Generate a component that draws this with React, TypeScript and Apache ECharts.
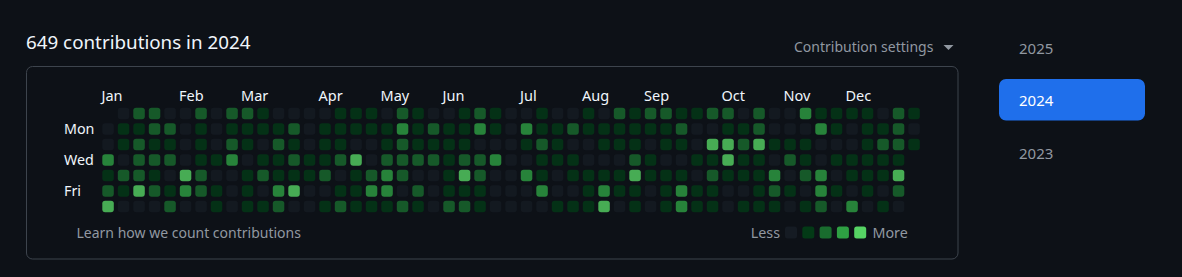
import { useEffect, useRef } from "react";
import * as echarts from "echarts";

const DAYS = ["Sun", "Mon", "Tue", "Wed", "Thu", "Fri", "Sat"];
const DAY_LABELS = ["", "Mon", "", "Wed", "", "Fri", ""];
const MONTHS = ["Jan", "Feb", "Mar", "Apr", "May", "Jun", "Jul", "Aug", "Sep", "Oct", "Nov", "Dec"];
const MONTH_START_WEEKS = [0, 5, 9, 14, 18, 22, 27, 31, 35, 40, 44, 48];
const LEVEL_COLORS = ["#151b23", "#033a16", "#196c2e", "#2ea043", "#56d364"];
const YEARS = ["2025", "2024", "2023"];
const TITLE = "649 contributions in 2024";

// contribution level (0-4) per week, one array per weekday; null = outside 2024
const SUN = [null, 0, 2, 2, 0, 0, 2, 0, 2, 2, 1, 0, 0, 0, 0, 1, 1, 1, 0, 2, 1, 0, 0, 1, 2, 1, 0, 0, 1, 0, 0, 1, 0, 2, 1, 2, 2, 1, 1, 2, 2, 0, 2, 0, 0, 3, 1, 1, 1, 1, 0, 2, 1];
const MON = [0, 1, 1, 2, 2, 0, 1, 0, 1, 1, 1, 1, 2, 0, 1, 1, 1, 1, 1, 3, 1, 2, 1, 1, 3, 1, 0, 3, 1, 1, 2, 1, 1, 1, 1, 1, 1, 2, 0, 0, 1, 1, 2, 0, 0, 0, 3, 1, 0, 1, 1, 2, 0];
const TUE = [0, 1, 2, 1, 1, 0, 1, 0, 2, 1, 0, 2, 1, 0, 1, 1, 0, 0, 1, 2, 1, 1, 1, 1, 0, 0, 0, 1, 2, 1, 0, 0, 1, 1, 1, 0, 1, 1, 0, 4, 4, 2, 4, 1, 1, 1, 0, 0, 0, 1, 2, 2, 1];
const WED = [3, 0, 2, 2, 2, 0, 1, 1, 3, 0, 1, 1, 2, 1, 1, 2, 4, 0, 2, 2, 2, 2, 1, 2, 2, 3, 0, 0, 1, 1, 1, 0, 0, 0, 2, 1, 0, 0, 1, 1, 4, 1, 1, 0, 2, 1, 0, 1, 1, 1, 1, 1, null];
const THU = [1, 2, 2, 1, 0, 4, 2, 0, 0, 1, 2, 1, 1, 1, 2, 0, 1, 2, 3, 2, 0, 0, 1, 4, 2, 0, 0, 3, 1, 0, 1, 1, 1, 1, 4, 1, 1, 1, 0, 2, 1, 1, 1, 3, 0, 2, 3, 0, 1, 1, 1, 4, null];
const FRI = [2, 1, 4, 2, 1, 3, 2, 1, 0, 1, 0, 3, 4, 0, 0, 1, 1, 3, 3, 0, 2, 0, 1, 1, 1, 0, 0, 0, 3, 0, 0, 1, 3, 1, 1, 0, 1, 3, 1, 1, 0, 0, 1, 2, 1, 0, 3, 1, 0, 1, 0, 2, null];
const SAT = [4, 0, 0, 0, 2, 0, 0, 1, 0, 1, 1, 2, 0, 0, 1, 2, 1, 1, 1, 2, 1, 0, 2, 2, 1, 0, 0, 0, 0, 1, 1, 1, 4, 0, 1, 0, 1, 3, 1, 1, 0, 1, 1, 1, 0, 1, 2, 0, 3, 0, 1, 0, null];
const WEEKDAY_LEVELS = [SUN, MON, TUE, WED, THU, FRI, SAT];

const BG = "#0d1117";
const FG = "#f0f6fc";
const MUTED = "#9198a1";
const FONT = "'Noto Sans', sans-serif";

export default function App() {
  const ref = useRef<HTMLDivElement>(null);

  useEffect(() => {
    if (!ref.current) return;
    const chart = echarts.init(ref.current, null, { renderer: "svg" });

    const data: any[] = [];
    WEEKDAY_LEVELS.forEach((row, d) => {
      row.forEach((lvl, w) => {
        if (lvl !== null) data.push([w + 0.5, d, lvl]);
      });
    });

    const cellPitch = 15.5;
    const gridLeft = 100.3;
    const gridTop = 105.7;

    const legendX0 = 785;
    const legendItems = LEVEL_COLORS.map((c, i) => ({
      type: "rect",
      shape: { x: legendX0 + i * 17.3, y: 226.5, width: 12, height: 12, r: 2.5 },
      style: { fill: c },
    }));

    chart.setOption({
      animation: false,
      backgroundColor: BG,
      grid: {
        left: gridLeft,
        top: gridTop,
        width: 53 * cellPitch,
        height: 7 * cellPitch,
        containLabel: false,
      },
      xAxis: {
        type: "value",
        position: "top",
        min: 0,
        max: 53,
        interval: 1,
        axisLine: { show: false },
        axisTick: { show: false },
        splitLine: { show: false },
        axisLabel: {
          show: true,
          showMinLabel: true,
          showMaxLabel: true,
          margin: 3,
          align: "left",
          padding: [0, 0, 0, 1.2],
          color: FG,
          fontSize: 14.5,
          fontFamily: FONT,
          formatter: (v: number) => {
            const i = MONTH_START_WEEKS.indexOf(v);
            return i >= 0 ? MONTHS[i] : "";
          },
        },
      },
      yAxis: {
        type: "category",
        data: DAYS,
        inverse: true,
        axisLine: { show: false },
        axisTick: { show: false },
        splitLine: { show: false },
        axisLabel: {
          interval: 0,
          align: "left",
          margin: 36.3,
          color: FG,
          fontSize: 14.3,
          fontFamily: FONT,
          formatter: (_v: string, i: number) => DAY_LABELS[i],
        },
      },
      series: [
        {
          type: "scatter",
          symbol: "roundRect",
          symbolSize: 11.5,
          data,
          itemStyle: {
            color: (p: any) => LEVEL_COLORS[p.value[2]],
          },
          emphasis: { disabled: true },
        },
      ],
      graphic: [
        {
          type: "text",
          x: 26,
          y: 42,
          style: { text: TITLE, fill: FG, fontSize: 18.8, fontFamily: FONT, verticalAlign: "middle" },
        },
        {
          type: "text",
          x: 794,
          y: 46.5,
          style: { text: "Contribution settings", fill: MUTED, fontSize: 14, fontFamily: FONT, verticalAlign: "middle" },
        },
        {
          type: "polygon",
          shape: { points: [[943.5, 45], [953.5, 45], [948.5, 50]] },
          style: { fill: MUTED },
        },
        {
          type: "rect",
          shape: { x: 26.5, y: 66.5, width: 931.5, height: 192.5, r: 6 },
          style: { fill: "none", stroke: "#3d444d", lineWidth: 1 },
          z: -1,
        },
        {
          type: "text",
          x: 76.5,
          y: 232.5,
          style: { text: "Learn how we count contributions", fill: MUTED, fontSize: 14, fontFamily: FONT, verticalAlign: "middle" },
        },
        {
          type: "text",
          x: 780,
          y: 232.5,
          style: { text: "Less", fill: MUTED, fontSize: 14.3, fontFamily: FONT, verticalAlign: "middle", align: "right" },
        },
        ...legendItems,
        {
          type: "text",
          x: 872.5,
          y: 232.5,
          style: { text: "More", fill: MUTED, fontSize: 14.3, fontFamily: FONT, verticalAlign: "middle" },
        },
        {
          type: "rect",
          shape: { x: 999, y: 79, width: 146, height: 41.5, r: 7 },
          style: { fill: "#1f6feb" },
        },
        ...YEARS.map((y, i) => ({
          type: "text",
          x: 1019,
          y: 47.5 + i * 52.5,
          style: {
            text: y,
            fill: i === 1 ? "#ffffff" : MUTED,
            fontSize: 15,
            fontFamily: FONT,
            verticalAlign: "middle",
          },
        })),
      ],
    });

    return () => chart.dispose();
  }, []);

  return (
    <div
      ref={ref}
      style={{ position: "absolute", left: 0, top: 0, width: 1182, height: 277 }}
    />
  );
}
